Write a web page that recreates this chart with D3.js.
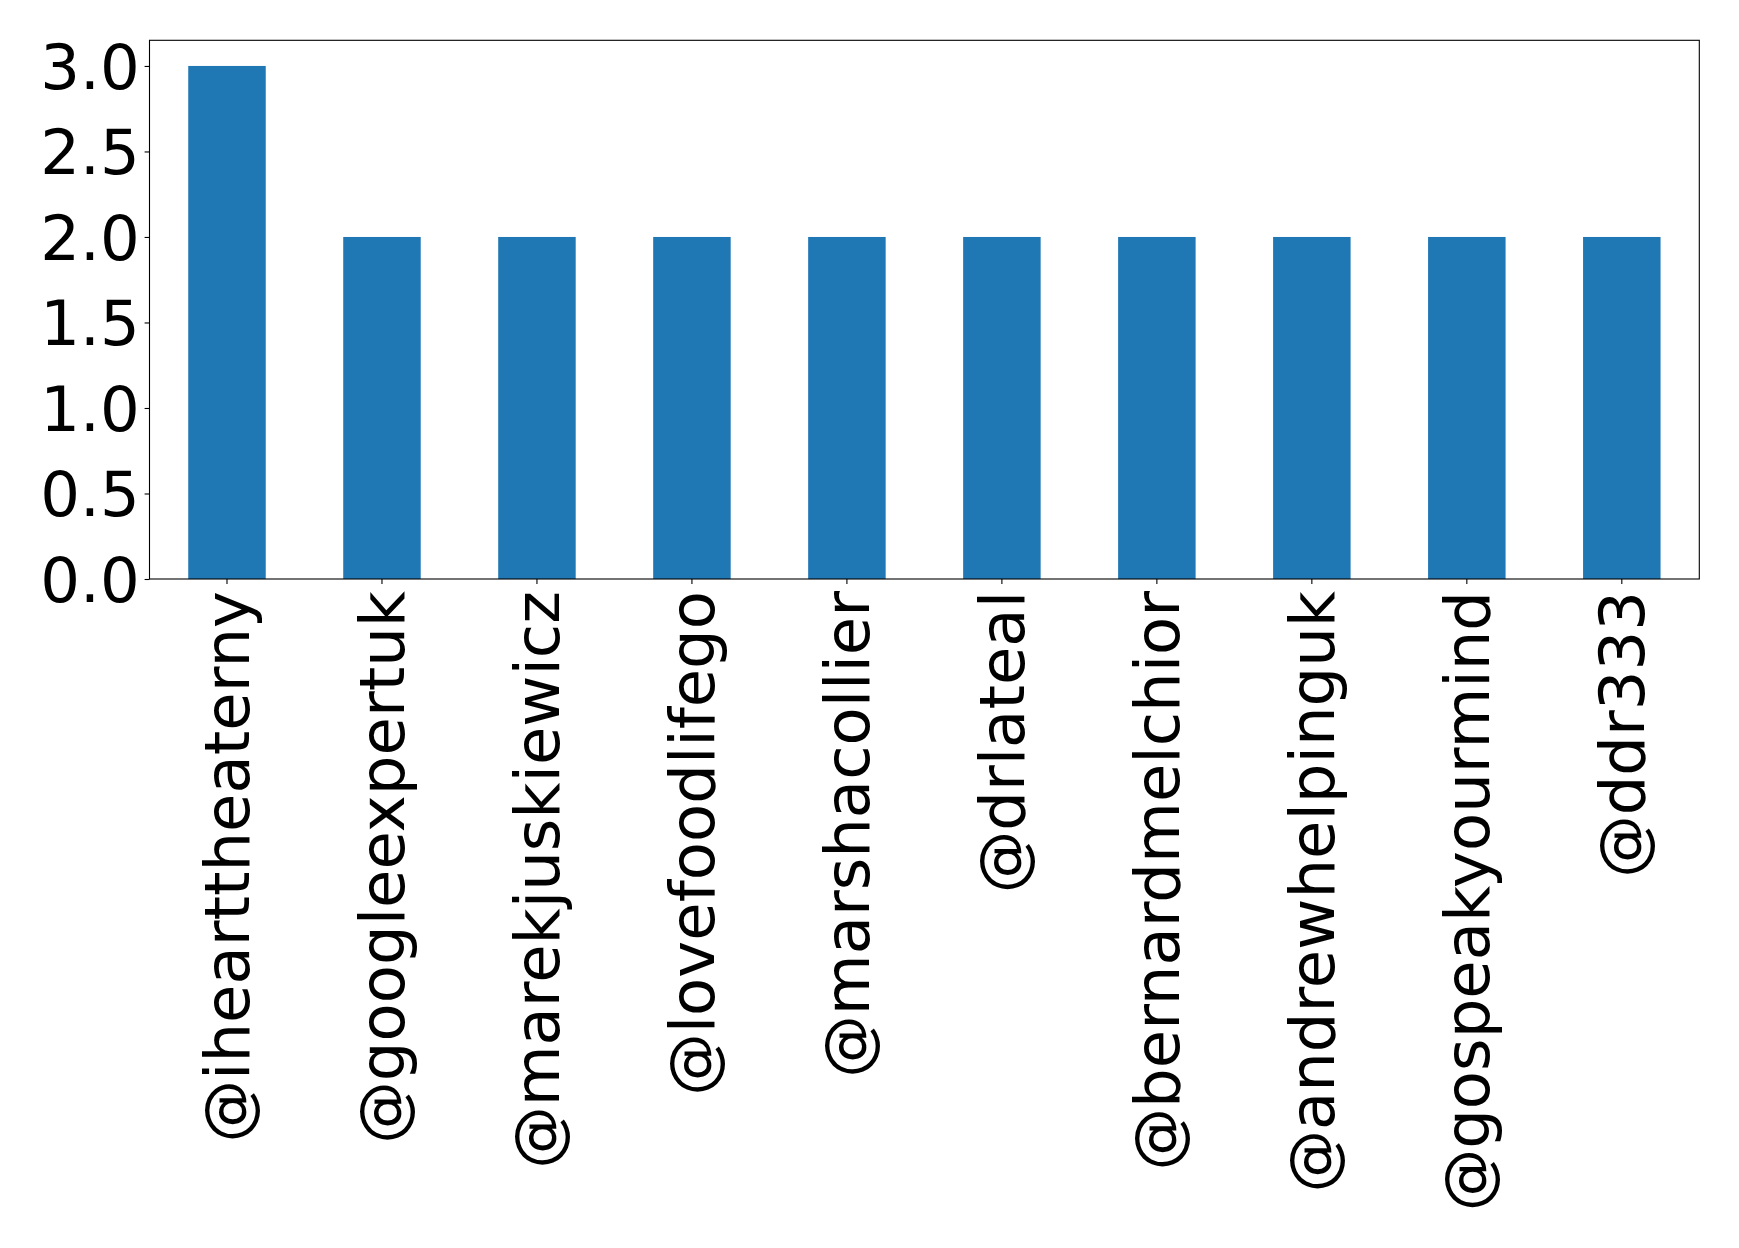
<!DOCTYPE html>
<html><head><meta charset="utf-8">
<script src="https://cdn.jsdelivr.net/npm/d3@7"></script>
<style>body{margin:0;background:#fff}svg{display:block}</style>
</head><body>
<script>
const categories = ["@ihearttheaterny","@googleexpertuk","@marekjuskiewicz","@lovefoodlifego","@marshacollier","@drlateal","@bernardmelchior","@andrewhelpinguk","@gospeakyourmind","@ddr333"];
const values = [3,2,2,2,2,2,2,2,2,2];
const yTicks = [0,0.5,1.0,1.5,2.0,2.5,3.0];

const W=1739,H=1248;
const L=149.5,R=1699.3,T=40.3,B=579;
const svg=d3.select("body").append("svg").attr("width",W).attr("height",H);
const x=d3.scaleBand().domain(categories).range([L,R]).paddingInner(0.5).paddingOuter(0.25);
const y=d3.scaleLinear().domain([0,3.15]).range([B,T]);
const font="DejaVu Sans";
svg.append("g").selectAll("rect").data(values).join("rect")
 .attr("x",(d,i)=>x(categories[i])).attr("width",x.bandwidth())
 .attr("y",d=>y(d)).attr("height",d=>B-y(d)).attr("fill","#1f77b4");
svg.append("rect").attr("x",L).attr("y",T).attr("width",R-L).attr("height",B-T)
 .attr("fill","none").attr("stroke","#000").attr("stroke-width",1.1);
const ya=svg.append("g").attr("transform",`translate(${L},0)`)
 .call(d3.axisLeft(y).tickValues(yTicks).tickFormat(d3.format(".1f")).tickSize(4.9).tickPadding(4.9));
ya.select(".domain").remove();
ya.selectAll("line").attr("stroke","#000").attr("stroke-width",1.1);
ya.selectAll("text").attr("font-family",font).attr("font-size",62.5).attr("fill","#000").attr("dy","0.36em");
const xa=svg.append("g").attr("transform",`translate(0,${B})`)
 .call(d3.axisBottom(x).tickSize(4.9).tickPadding(4.9));
xa.select(".domain").remove();
xa.selectAll("line").attr("stroke","#000").attr("stroke-width",1.1);
xa.selectAll("text").attr("font-family",font).attr("font-size",62.5).attr("fill","#000")
 .attr("transform","rotate(-90)").attr("text-anchor","end").attr("x",-12).attr("y",0).attr("dy","0.36em");
</script>
</body></html>
